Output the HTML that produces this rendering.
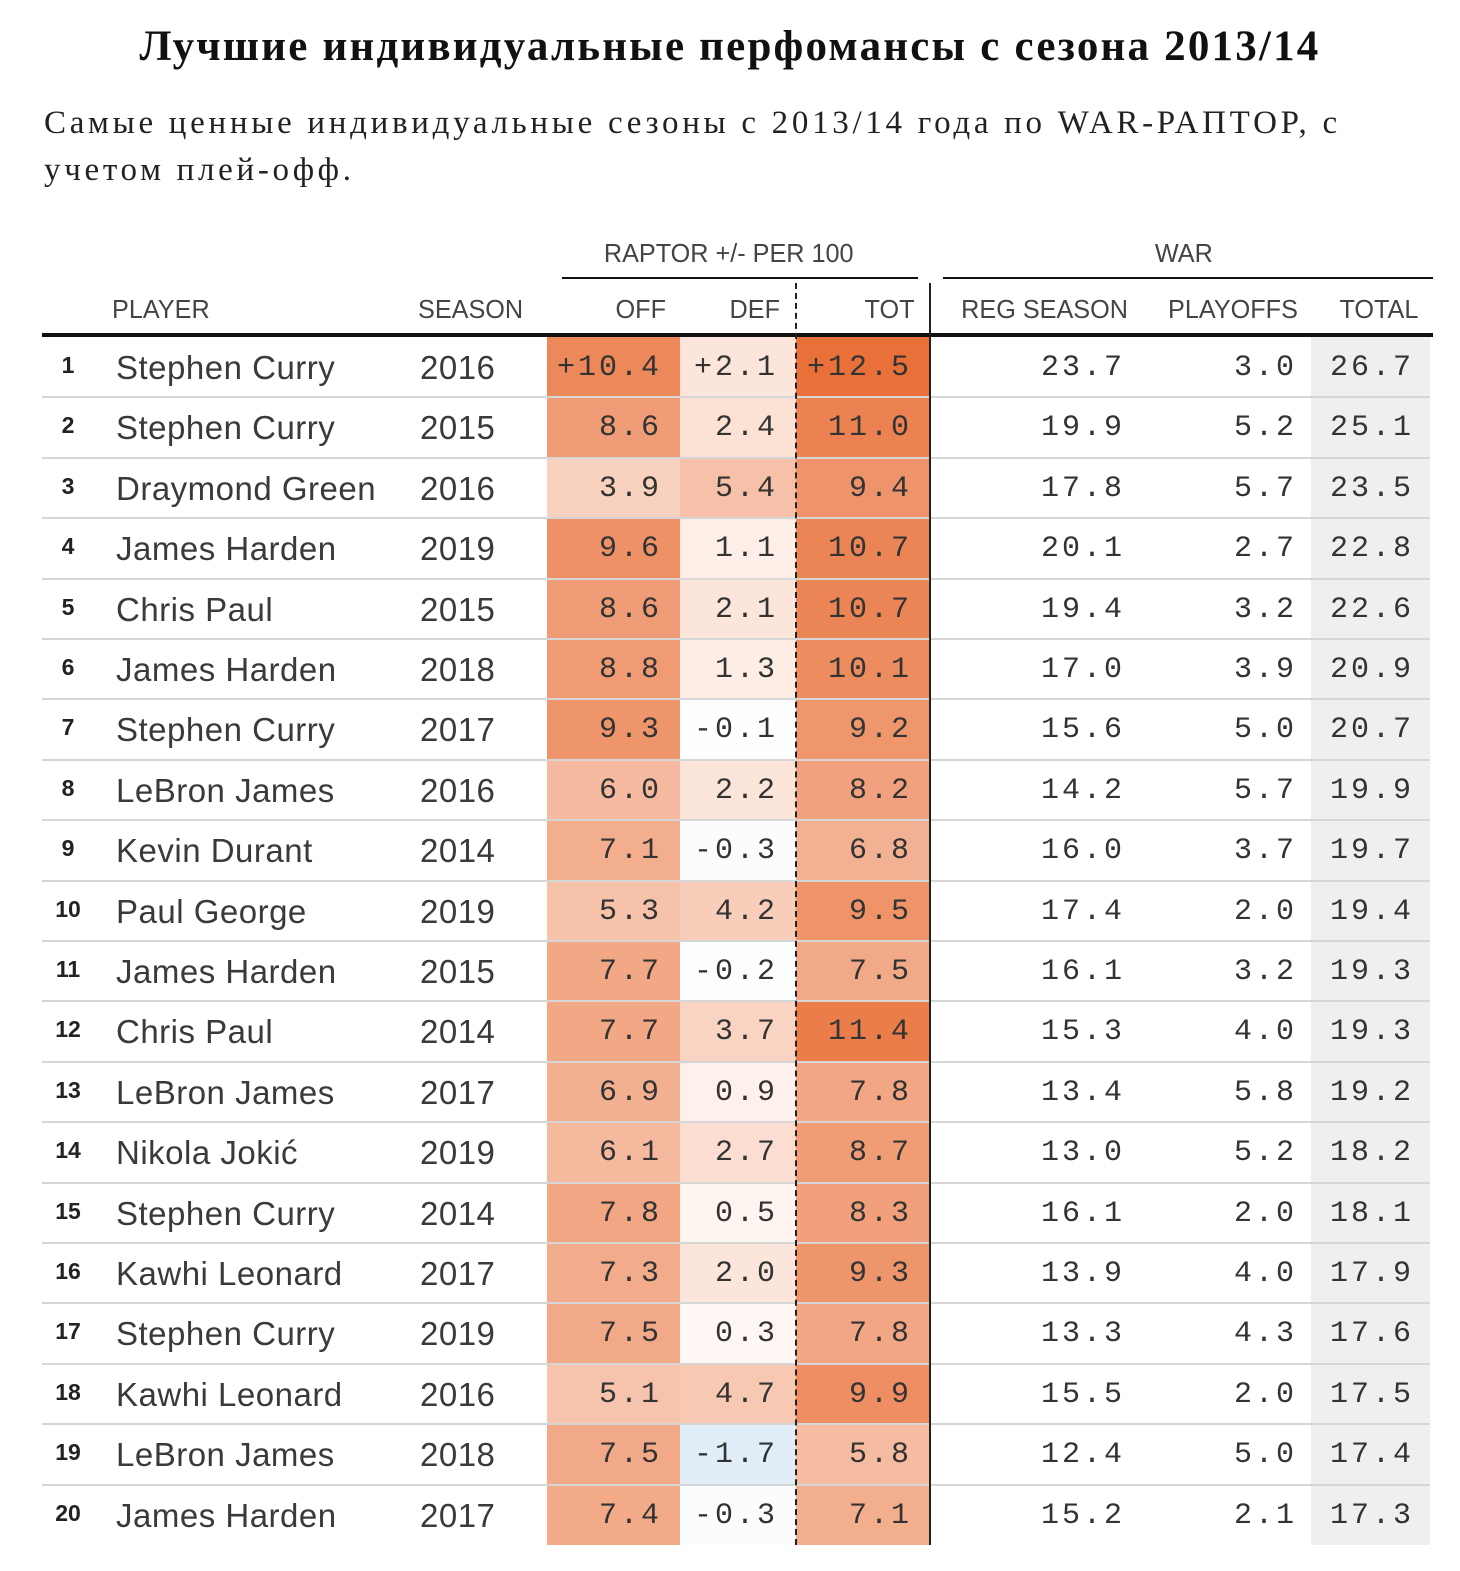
<!DOCTYPE html>
<html><head><meta charset="utf-8">
<style>
body{margin:0;background:#fff;width:1460px;height:1571px;overflow:hidden;position:relative;font-family:"Liberation Sans","DejaVu Sans",sans-serif;}
.abs{position:absolute;white-space:nowrap;}
#title{left:0;width:1460px;text-align:center;top:22px;font:bold 43px "Liberation Serif","Noto Serif CJK SC",serif;color:#111;letter-spacing:2.2px;}
#sub{left:44px;top:100px;font:33px/47px "Liberation Serif","Noto Serif CJK SC",serif;color:#222;white-space:normal;width:1330px;letter-spacing:3.7px}
.hd{font-size:26px;color:#444;transform:scaleX(0.97);}
.num{font-family:"Liberation Mono",monospace;font-size:30px;color:#333;letter-spacing:3px;text-align:right;}
.nm{font-size:33px;color:#3a3a3a;letter-spacing:0.5px;}
</style></head><body>
<div id="title" class="abs">Лучшие индивидуальные перфомансы с сезона 2013/14</div>
<div id="sub" class="abs">Самые ценные индивидуальные сезоны с 2013/14 года по WAR-РАПТОР, с учетом плей-офф.</div>
<div id="tbl"></div>
<script>
const players=["Stephen Curry","Stephen Curry","Draymond Green","James Harden","Chris Paul","James Harden","Stephen Curry","LeBron James","Kevin Durant","Paul George","James Harden","Chris Paul","LeBron James","Nikola Jokić","Stephen Curry","Kawhi Leonard","Stephen Curry","Kawhi Leonard","LeBron James","James Harden"];
const seasons=[2016,2015,2016,2019,2015,2018,2017,2016,2014,2019,2015,2014,2017,2019,2014,2017,2019,2016,2018,2017];
const off=[10.4,8.6,3.9,9.6,8.6,8.8,9.3,6.0,7.1,5.3,7.7,7.7,6.9,6.1,7.8,7.3,7.5,5.1,7.5,7.4];
const def=[2.1,2.4,5.4,1.1,2.1,1.3,-0.1,2.2,-0.3,4.2,-0.2,3.7,0.9,2.7,0.5,2.0,0.3,4.7,-1.7,-0.3];
const tot=[12.5,11.0,9.4,10.7,10.7,10.1,9.2,8.2,6.8,9.5,7.5,11.4,7.8,8.7,8.3,9.3,7.8,9.9,5.8,7.1];
const reg=[23.7,19.9,17.8,20.1,19.4,17.0,15.6,14.2,16.0,17.4,16.1,15.3,13.4,13.0,16.1,13.9,13.3,15.5,12.4,15.2];
const po=[3.0,5.2,5.7,2.7,3.2,3.9,5.0,5.7,3.7,2.0,3.2,4.0,5.8,5.2,2.0,4.0,4.3,2.0,5.0,2.1];
const totalWar=[26.7,25.1,23.5,22.8,22.6,20.9,20.7,19.9,19.7,19.4,19.3,19.3,19.2,18.2,18.1,17.9,17.6,17.5,17.4,17.3];

const T=document.getElementById('tbl');
function div(cls,style,txt){const d=document.createElement('div');d.className='abs '+(cls||'');d.style.cssText=style;if(txt!==undefined)d.textContent=txt;T.appendChild(d);return d;}
function heat(v){
  if(v>=0){const t=Math.pow(Math.min(v/12.5,1),1.05);
    return `rgb(${Math.round(255-22*t)},${Math.round(250-138*t)},${Math.round(247-190*t)})`;}
  const t=Math.min(-v/2,1);
  return `rgb(${Math.round(255-35*t)},${Math.round(255-20*t)},${Math.round(255-8*t)})`;
}
function fmt(v,plus){return (plus&&v>0?'+':'')+v.toFixed(1);}
const top0=337,rh=60.4;
let e;
e=div('hd','left:600px;top:238px;','RAPTOR +/- PER 100');


e=div('hd','left:1154px;top:238px;','WAR');


e=div('','left:562px;top:277px;width:356px;height:2px;background:#111;');


e=div('','left:943px;top:277px;width:490px;height:2px;background:#111;');


const heads=[["PLAYER",112,null],["SEASON",418,null],["OFF",null,666],["DEF",null,780],["TOT",null,915],["REG SEASON",null,1128],["PLAYOFFS",null,1298],["TOTAL",null,1418]];
heads.forEach(h=>{
  const d=div('hd',(h[1]!==null?`left:${h[1]}px;transform-origin:left;`:`right:${1460-h[2]}px;transform-origin:right;`)+'top:294px;',h[0]);
  
  
});
e=div('','left:1311px;top:337px;width:119px;height:1208px;background:#efefef;');


for(let i=0;i<players.length;i++){
  const y=top0+i*rh, h=rh;
  const cells=[[off[i],547,133,662],[def[i],680,116,778],[tot[i],796,134,912]];
  cells.forEach((c,k)=>{
    const b=div('',`left:${c[1]}px;top:${y}px;width:${c[2]}px;height:${h+0.5}px;background:${heat(c[0])};`);
    
    
    const t=div('num',`right:${1460-c[3]}px;top:${y+14}px;`,fmt(c[0],i===0));
    
    
  });
  if(i>0){const l=div('',`left:42px;top:${y-1}px;width:1388px;height:2px;background:#d6d6d6;`);
    
    }
  let d=div('',`left:42px;width:52px;text-align:center;top:${y+15}px;font-size:23px;font-weight:bold;color:#222;`,String(i+1));
  
  
  d=div('nm',`left:116px;top:${y+12}px;`,players[i]);
  
  
  d=div('nm',`left:420px;top:${y+12}px;`,String(seasons[i]));
  
  
  d=div('num',`right:${1460-1125}px;top:${y+14}px;`,fmt(reg[i]));
  
  
  d=div('num',`right:${1460-1297}px;top:${y+14}px;`,fmt(po[i]));
  
  
  d=div('num',`right:${1460-1414}px;top:${y+14}px;`,fmt(totalWar[i]));
  
  
}
e=div('','left:42px;top:333px;width:1391px;height:4px;background:#111;');


e=div('','left:795px;top:283px;width:0;height:1262px;border-left:2px dashed #222;');


e=div('','left:929px;top:283px;width:2px;height:1262px;background:#222;');


</script>
</body></html>
